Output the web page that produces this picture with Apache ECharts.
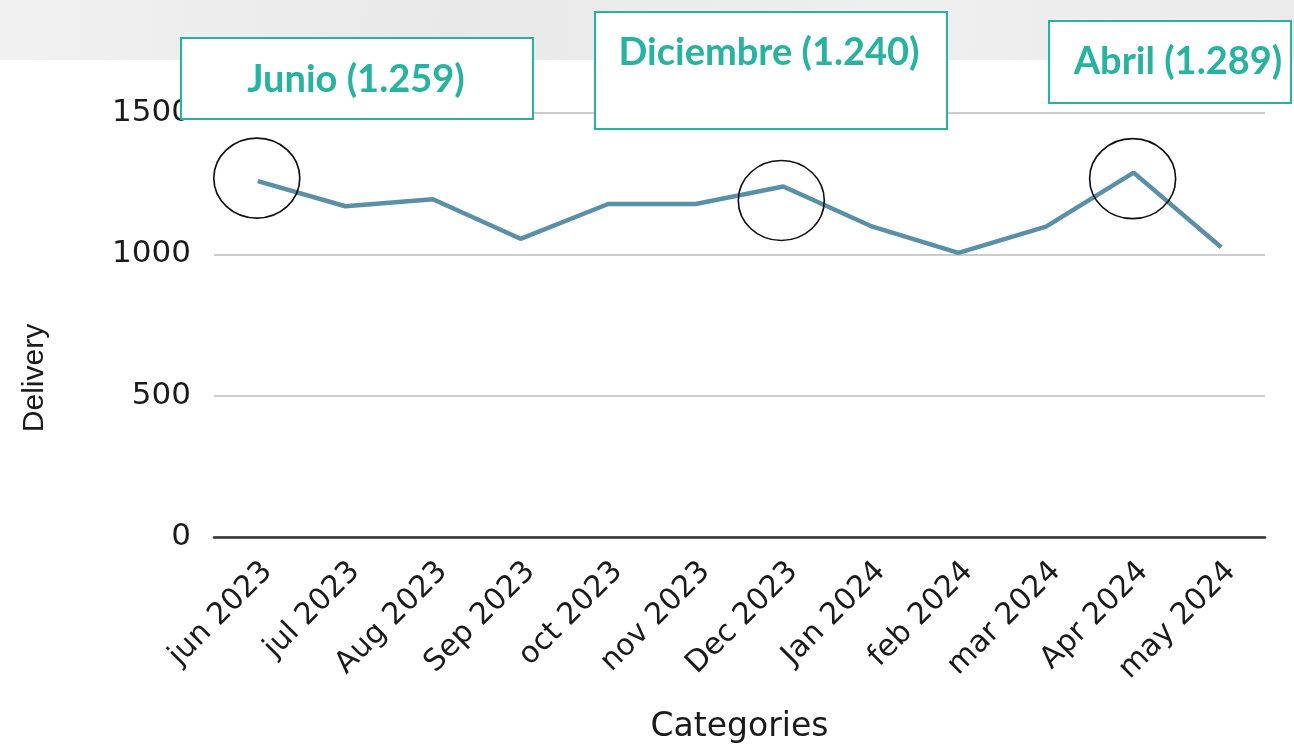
<!DOCTYPE html>
<html>
<head>
<meta charset="utf-8">
<script src="https://cdn.jsdelivr.net/npm/echarts@6/dist/echarts.min.js"></script>
<style>
html,body{margin:0;padding:0;background:#fff;}
#chart{width:1294px;height:744px;}
</style>
</head>
<body>
<div id="chart"></div>
<script>
const categories = ['jun 2023','jul 2023','Aug 2023','Sep 2023','oct 2023','nov 2023','Dec 2023','Jan 2024','feb 2024','mar 2024','Apr 2024','may 2024'];
const delivery = [1259, 1170, 1195, 1055, 1178, 1178, 1240, 1100, 1005, 1098, 1289, 1025];
const yTicks = [0, 500, 1000, 1500];
const highlightIdx = [0, 6, 10];
const annotationTexts = ['Junio (1.259)', 'Diciembre (1.240)', 'Abril (1.289)'];

const chart = echarts.init(document.getElementById('chart'));
const teal = '#27b3a0';

const boxes = [
  {x:180, y:37, w:352, h:81, tx:356, ty:80},
  {x:594, y:11, w:352, h:117, tx:769, ty:53},
  {x:1048, y:20, w:242, h:82, tx:1178, ty:62}
];
const graphics = [
  {type:'rect', left:0, top:0, z:-10, shape:{width:1294, height:60},
   style:{fill:new echarts.graphic.LinearGradient(0,0,1,1,[{offset:0,color:'#f1f1f1'},{offset:0.35,color:'#e9e9e9'},{offset:0.7,color:'#efefef'},{offset:1,color:'#ebebeb'}])}}
];
boxes.forEach((b,i)=>{
  graphics.push({type:'rect', left:b.x, top:b.y, z:100, shape:{width:b.w, height:b.h},
    style:{fill:'#fff', stroke:teal, lineWidth:2}});
  graphics.push({type:'text', z:101, x:b.tx, y:b.ty,
    style:{text:annotationTexts[i], fill:teal, font:'bold 38px Lato', textAlign:'center', textVerticalAlign:'middle'}});
});

const offsets = [[-1,-3],[-2,14],[-1,6]];
chart.setOption({
  animation:false,
  backgroundColor:'#fff',
  grid:{left:214, right:29, top:113, bottom:207, containLabel:false, outerBoundsMode:'none'},
  xAxis:{
    type:'category', data:categories, boundaryGap:true,
    name:'Categories', nameLocation:'middle', nameGap:174,
    nameTextStyle:{fontFamily:'DejaVu Sans', fontSize:33, color:'#1a1a1a'},
    axisLine:{show:true, lineStyle:{color:'#333', width:2.5}},
    axisTick:{show:false},
    axisLabel:{rotate:45, fontFamily:'DejaVu Sans', fontSize:30, color:'#1a1a1a', margin:40, padding:[0,-14,0,0]}
  },
  yAxis:{
    type:'value', min:0, max:1500, interval:500,
    name:'Delivery', nameLocation:'middle', nameGap:164, nameRotate:90,
    nameTextStyle:{fontFamily:'Liberation Sans', fontSize:30, color:'#1a1a1a', padding:[0,106,0,0]},
    axisLine:{show:false}, axisTick:{show:false},
    axisLabel:{fontFamily:'DejaVu Sans', fontSize:31, color:'#1a1a1a', margin:23,
      formatter:v=>yTicks.includes(v)?String(v):''},
    splitLine:{lineStyle:{color:'#cccccc', width:2}}
  },
  series:[{
    type:'line', data:delivery, showSymbol:false, symbol:'none',
    lineStyle:{color:'#5a8fa8', width:4.5},
    markPoint:{
      symbol:'circle', symbolSize:[86,80],
      label:{show:false},
      itemStyle:{color:'rgba(0,0,0,0)', borderColor:'#111', borderWidth:1.6},
      data:highlightIdx.map((i,k)=>({coord:[i, delivery[i]], symbolOffset:offsets[k]}))
    }
  }],
  graphic:graphics
});
</script>
</body>
</html>
